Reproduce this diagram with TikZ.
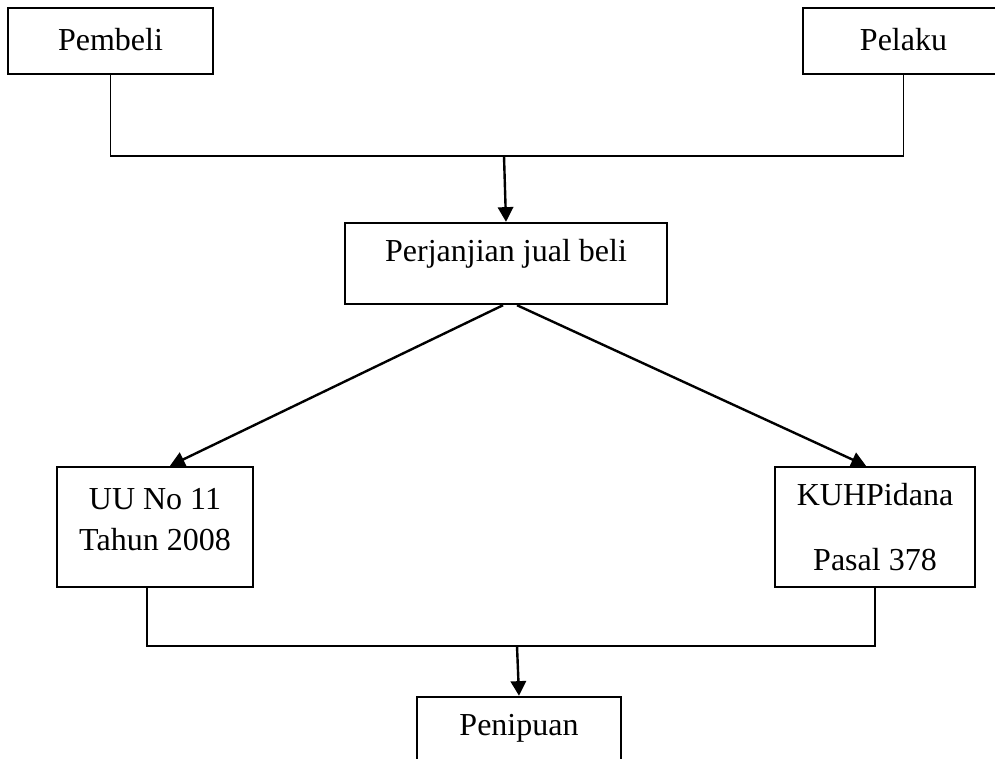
\documentclass[tikz,border=0pt]{standalone}
\usepackage{fontspec}
\setmainfont{Liberation Serif}
\usetikzlibrary{arrows.meta,calc}

\begin{document}
\begin{tikzpicture}[x=0.75pt, y=-0.75pt,
    box/.style={draw, line width=1.8pt, inner sep=0pt, align=center, font=\fontsize{24}{29}\selectfont},
    oneline/.style={text height=16.8pt, text depth=#1},
    link/.style={line width=1.1pt},
    arrow/.style={line width=1.8pt, -{Triangle[length=11pt,width=11.5pt]}}]
    \useasboundingbox (0,0) rectangle (995,758);

    \node[box, oneline=3.3pt, minimum width=153.75pt, minimum height=49.5pt] (pembeli) at (110.5,41) {Pembeli};
    \node[box, oneline=3.3pt, minimum width=150.75pt, minimum height=49.5pt] (pelaku) at (903.5,41) {Pelaku};
    \node[box, oneline=20.5pt, minimum width=241.5pt, minimum height=60.75pt] (perjanjian) at (506,263.5) {Perjanjian jual beli};
    \node[box, text depth=12pt, minimum width=147pt, minimum height=90pt] (uu) at (155,527) {UU No 11\\[1.75pt]Tahun 2008};
    \node[box, minimum width=150pt, minimum height=90pt] (kuh) at (875,527) {KUHPidana\\[19.75pt]Pasal 378};
    \node[box, oneline=20.5pt, minimum width=153pt, minimum height=60.75pt] (penipuan) at (519,737.5) {Penipuan};

    \coordinate (topbar) at (504,156);
    \coordinate (botbar) at (517,646);

    \draw[link] (pembeli.south) |- (topbar) -| (pelaku.south);
    \draw[arrow] (topbar) -- (perjanjian.north);

    \draw[arrow] ([xshift=-2.25pt]perjanjian.south) -- ([xshift=11.25pt]uu.north);
    \draw[arrow] ([xshift=8.25pt]perjanjian.south) -- ([xshift=-6.75pt]kuh.north);

    \draw[link] ([xshift=-6pt]uu.south) |- (botbar) -| (kuh.south);
    \draw[arrow] (botbar) -- (penipuan.north);
\end{tikzpicture}
\end{document}
